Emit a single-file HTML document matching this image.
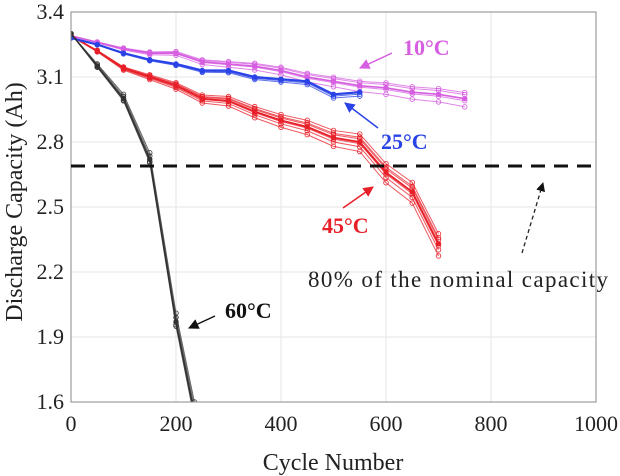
<!DOCTYPE html>
<html><head><meta charset="utf-8"><style>
body{margin:0;background:#fff}
svg{display:block;font-family:"Liberation Serif",serif}
</style></head><body>
<svg id="chart" width="620" height="476" viewBox="0 0 620 476">
<defs>
<marker id="am" viewBox="0 0 10 10" refX="9" refY="5" markerWidth="7" markerHeight="7" orient="auto"><path d="M0,0 L10,5 L0,10 z" fill="#d65ee0"/></marker>
<marker id="ab" viewBox="0 0 10 10" refX="9" refY="5" markerWidth="7" markerHeight="7" orient="auto"><path d="M0,0 L10,5 L0,10 z" fill="#2a43e6"/></marker>
<marker id="ar" viewBox="0 0 10 10" refX="9" refY="5" markerWidth="7" markerHeight="7" orient="auto"><path d="M0,0 L10,5 L0,10 z" fill="#e8202a"/></marker>
<marker id="ak" viewBox="0 0 10 10" refX="9" refY="5" markerWidth="7" markerHeight="7" orient="auto"><path d="M0,0 L10,5 L0,10 z" fill="#111"/></marker>
<clipPath id="clip"><rect x="71" y="12" width="525" height="390"/></clipPath>
</defs>
<g id="grid"></g>
<g id="series" clip-path="url(#clip)"></g>
<g id="axes"></g>
<line x1="71" y1="166" x2="596" y2="166" stroke="#111" stroke-width="3" stroke-dasharray="14,9"/>
<text x="403" y="55" font-size="22" font-weight="bold" fill="#d65ee0">10°C</text>
<line x1="392" y1="53" x2="360" y2="68" stroke="#d65ee0" stroke-width="1.5" marker-end="url(#am)"/>
<text x="381" y="149" font-size="22" font-weight="bold" fill="#2a43e6">25°C</text>
<line x1="378" y1="128" x2="345" y2="103" stroke="#2a43e6" stroke-width="1.5" marker-end="url(#ab)"/>
<text x="322" y="233" font-size="22" font-weight="bold" fill="#e8202a">45°C</text>
<line x1="343" y1="208" x2="373" y2="187" stroke="#e8202a" stroke-width="1.5" marker-end="url(#ar)"/>
<text x="225" y="318" font-size="22" font-weight="bold" fill="#111">60°C</text>
<line x1="215" y1="316" x2="189" y2="328" stroke="#111" stroke-width="1.5" marker-end="url(#ak)"/>
<text x="308" y="287" font-size="23" fill="#222" textLength="300">80% of the nominal capacity</text>
<line x1="522" y1="253" x2="543" y2="183" stroke="#222" stroke-width="1.3" stroke-dasharray="4,3" marker-end="url(#ak)"/>
<text x="333" y="470" font-size="24" text-anchor="middle" fill="#222">Cycle Number</text>
<text transform="translate(22,202) rotate(-90)" font-size="24" text-anchor="middle" fill="#222">Discharge Capacity (Ah)</text>
</svg>
<script>
const xTicks=[0,200,400,600,800,1000];
const yTicks=[1.6,1.9,2.2,2.5,2.8,3.1,3.4];
const cycles10=[0,50,100,150,200,250,300,350,400,450,500,550,600,650,700,750];
const cap10=[3.29,3.26,3.23,3.21,3.21,3.17,3.16,3.15,3.13,3.10,3.08,3.06,3.05,3.03,3.02,3.00];
const cycles25=[0,50,100,150,200,250,300,350,400,450,500,550];
const cap25=[3.28,3.25,3.21,3.18,3.16,3.13,3.13,3.10,3.09,3.08,3.02,3.03];
const cycles45=[0,50,100,150,200,250,300,350,400,450,500,550,600,650,700];
const cap45=[3.29,3.22,3.14,3.10,3.06,3.00,2.99,2.94,2.90,2.87,2.82,2.80,2.66,2.57,2.33];
const cycles60=[0,50,100,150,200,235];
const cap60=[3.30,3.15,3.00,2.72,1.97,1.55];
const rep10=[0,0.02,-0.01,0.03,-0.04];
const rep25=[0,-0.01,-0.02];
const rep45=[0,0.02,-0.01,0.03,-0.03,0.05,-0.06];
const rep60=[0,0.03,-0.03,0.06,-0.02];
const X=v=>71+v*0.525, Y=v=>12+(3.4-v)/0.3*65;
const NS='http://www.w3.org/2000/svg';
function mk(tag,attrs,parent){const e=document.createElementNS(NS,tag);for(const k in attrs)e.setAttribute(k,attrs[k]);parent.appendChild(e);return e;}
const grid=document.getElementById('grid'),axes=document.getElementById('axes'),ser=document.getElementById('series');
xTicks.forEach(t=>{
 const l=mk('line',{x1:X(t),x2:X(t),y1:12,y2:402,stroke:'#e6e6e6'},grid);
 
 
 const tx=mk('text',{x:X(t),y:431,'font-size':22,'text-anchor':'middle',fill:'#222'},axes);
 tx.textContent=t;
 
 
});
yTicks.forEach(t=>{
 const l=mk('line',{x1:71,x2:596,y1:Y(t),y2:Y(t),stroke:'#e6e6e6'},grid);
 
 
 const tx=mk('text',{x:64,y:Y(t)+7,'font-size':22,'text-anchor':'end',fill:'#222'},axes);
 tx.textContent=t.toFixed(1);
 
 
});
const fr=mk('rect',{x:71,y:12,width:525,height:390,fill:'none',stroke:'#888'},axes);


function draw(name,cx,cy,reps,color,w){
 reps.forEach((o,ri)=>{
  const g=mk('g',{},ser);
  
  
  const pts=cx.map((c,i)=>X(c)+','+Y(cy[i]+o*(i/cx.length))).join(' ');
  mk('polyline',{points:pts,fill:'none',stroke:color,'stroke-width':ri==0?w:1,opacity:ri==0?1:0.75},g);
  cx.forEach((c,i)=>{
   const p=mk('circle',{cx:X(c),cy:Y(cy[i]+o*(i/cx.length)),r:2.3,fill:ri==0?color:'none',stroke:color,'stroke-width':0.8},g);
   
   
  });
 });
}
draw('series-10c',cycles10,cap10,rep10,'#d65ee0',1.6);
draw('series-45c',cycles45,cap45,rep45,'#e8202a',1.8);
draw('series-25c',cycles25,cap25,rep25,'#2a43e6',2.2);
draw('series-60c',cycles60,cap60,rep60,'#333',1.4);
</script>
</body></html>
